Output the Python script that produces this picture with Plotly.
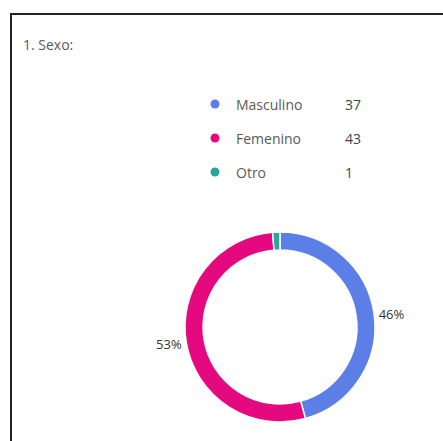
import plotly.graph_objects as go

# Survey question: "1. Sexo:" (response counts)
title_text = "1. Sexo:"
categories = ["Masculino", "Femenino", "Otro"]
counts = [37, 43, 1]
colors = ["#5B7FE6", "#E5097F", "#2FA49E"]
# percentage labels shown on the ring (the tiny "Otro" slice is left unlabelled)
show_pct = [True, True, False]

W, H = 443, 441
FONT = "Open Sans, Noto Sans, sans-serif"

fig = go.Figure()

# Donut chart
fig.add_trace(go.Pie(
    labels=categories,
    values=counts,
    sort=False,
    direction="clockwise",
    rotation=0,
    hole=0.81,
    marker=dict(colors=colors, line=dict(color="white", width=1.5)),
    texttemplate=["%{percent:.0%}" if s else "" for s in show_pct],
    textposition="outside",
    textfont=dict(family=FONT, size=13, color="#333333"),
    domain=dict(x=[185 / W, 375 / W], y=[(H - 422) / H, (H - 232) / H]),
    showlegend=False,
    hoverinfo="label+value+percent",
))

# Legend rows drawn on a pixel-space overlay axis
row_y = [104, 138, 172]
marker_x, name_x, value_x = 215, 234, 343

fig.add_trace(go.Scatter(
    x=[marker_x] * len(categories),
    y=row_y,
    mode="markers",
    marker=dict(size=9, color=colors),
    showlegend=False,
    hoverinfo="skip",
))

annotations = []
for name, val, y in zip(categories, counts, row_y):
    annotations.append(dict(
        x=name_x, y=y, xref="x", yref="y", text=name, showarrow=False,
        xanchor="left", yanchor="middle",
        font=dict(family=FONT, size=14, color="#5a5a5a"),
    ))
    annotations.append(dict(
        x=value_x, y=y, xref="x", yref="y", text=str(val), showarrow=False,
        xanchor="left", yanchor="middle",
        font=dict(family=FONT, size=14, color="#444444"),
    ))

annotations.append(dict(
    x=21, y=44, xref="x", yref="y", text=title_text, showarrow=False,
    xanchor="left", yanchor="middle",
    font=dict(family=FONT, size=14, color="#5a5a5a"),
))

# Card frame (top and left edges)
shapes = [dict(
    type="path", xref="x", yref="y",
    path="M 11 450 L 11 14 L 460 14",
    line=dict(color="#222222", width=2),
)]

fig.update_layout(
    width=W, height=H,
    margin=dict(l=0, r=0, t=0, b=0),
    paper_bgcolor="white",
    plot_bgcolor="rgba(0,0,0,0)",
    xaxis=dict(range=[0, W], domain=[0, 1], visible=False, fixedrange=True),
    yaxis=dict(range=[H, 0], domain=[0, 1], visible=False, fixedrange=True),
    annotations=annotations,
    shapes=shapes,
    font=dict(family=FONT),
)

fig.write_html("out.html")
